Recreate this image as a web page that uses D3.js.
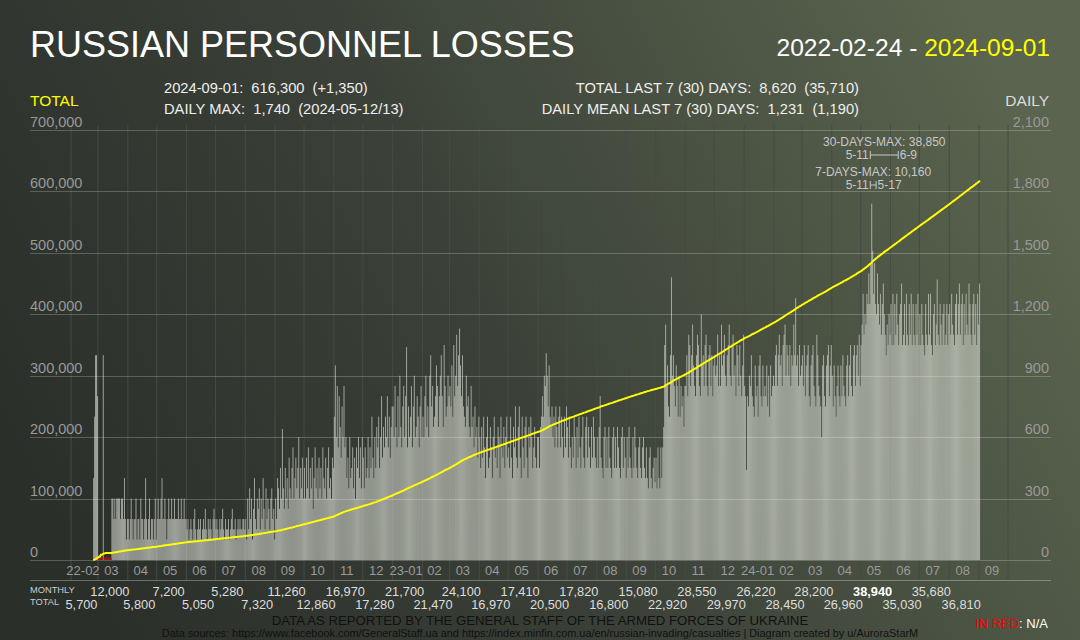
<!DOCTYPE html>
<html>
<head>
<meta charset="utf-8">
<script src="https://cdn.jsdelivr.net/npm/d3@7"></script>
<style>
  body { margin: 0; background: #2e332e; }
  svg { display: block; font-family: "Liberation Sans", Arial, sans-serif; }
  text { white-space: pre; }
</style>
</head>
<body>
<div id="chart"></div>
<script>
// daily losses, one row per month; first row starts 2022-02-24, the others on the 1st
var dailyLosses = [
   [400, 700, 1000, 1000, 800],                                                                                                       // 22-02
   [1300, 130, 3160, 170, 840, 1000, 0, 1000, 0, 0, 0, 0, 0, 0, 300, 300, 200, 300, 200, 300, 300, 300, 300, 200, 300, 300, 200, 400, 200, 100, 200], // 03
   [200, 100, 200, 300, 200, 100, 200, 200, 300, 100, 200, 200, 100, 300, 200, 200, 100, 200, 400, 200, 100, 200, 300, 100, 200, 200, 100, 200, 300, 100],
   [200, 300, 200, 200, 300, 400, 200, 200, 300, 200, 100, 200, 300, 200, 200, 300, 200, 200, 300, 200, 200, 200, 300, 200, 200, 300, 200, 200, 300, 200, 200],
   [150, 200, 100, 150, 200, 150, 100, 200, 250, 150, 100, 150, 200, 150, 200, 100, 150, 200, 150, 250, 150, 100, 200, 150, 200, 150, 100, 200, 250, 200],
   [150, 200, 150, 100, 200, 150, 200, 250, 150, 100, 200, 150, 150, 200, 100, 150, 200, 250, 150, 150, 200, 100, 150, 200, 150, 200, 150, 150, 200, 200, 150],
   [200, 100, 300, 150, 350, 200, 300, 100, 250, 400, 200, 150, 300, 250, 350, 150, 300, 200, 400, 250, 150, 350, 200, 300, 250, 150, 300, 350, 200, 250, 100],
   [300, 200, 400, 350, 250, 450, 300, 640, 350, 250, 450, 300, 400, 250, 500, 350, 300, 450, 550, 300, 400, 500, 350, 450, 600, 300, 450, 350, 500, 300],
   [450, 300, 500, 350, 550, 300, 450, 350, 500, 250, 400, 550, 350, 450, 300, 500, 350, 450, 300, 550, 400, 350, 500, 300, 450, 550, 350, 400, 300, 500, 450],
   [700, 950, 600, 850, 550, 800, 650, 500, 750, 600, 850, 550, 600, 400, 500, 350, 600, 400, 450, 550, 350, 500, 300, 550, 450, 600, 400, 550, 350, 600],
   [500, 350, 550, 400, 450, 600, 400, 550, 450, 700, 500, 400, 600, 450, 650, 550, 700, 450, 600, 800, 500, 650, 550, 700, 600, 800, 550, 700, 500, 650, 750],
   [750, 600, 850, 650, 550, 800, 600, 900, 650, 550, 750, 850, 600, 800, 1040, 550, 750, 600, 700, 850, 550, 750, 900, 600, 650, 800, 700, 550, 750, 850, 600], // 23-01
   [700, 600, 800, 900, 650, 750, 600, 900, 1000, 750, 850, 650, 700, 800, 950, 850, 650, 800, 900, 1000, 800, 650, 1050, 850, 700, 750, 900, 800],
   [850, 750, 950, 700, 1050, 800, 900, 1100, 850, 1000, 1130, 950, 800, 1000, 750, 700, 650, 900, 750, 800, 650, 600, 850, 650, 700, 550, 750, 600, 650, 500, 700],
   [600, 450, 650, 500, 700, 550, 400, 600, 700, 450, 500, 650, 550, 400, 600, 700, 500, 550, 450, 650, 600, 400, 700, 550, 500, 650, 450, 600, 700, 500],
   [550, 450, 700, 500, 400, 650, 550, 750, 500, 450, 650, 750, 500, 400, 700, 550, 450, 650, 700, 500, 400, 650, 550, 700, 600, 450, 550, 650, 500, 450, 600],
   [600, 450, 650, 700, 800, 700, 900, 850, 1010, 900, 750, 950, 700, 650, 750, 600, 700, 550, 750, 650, 550, 700, 750, 550, 700, 600, 500, 700, 550, 750],
   [650, 500, 700, 550, 450, 600, 500, 700, 600, 450, 650, 500, 700, 550, 450, 600, 700, 500, 450, 650, 700, 500, 650, 550, 450, 650, 500, 700, 600, 500, 450],
   [600, 450, 650, 800, 500, 450, 400, 600, 650, 450, 600, 450, 650, 500, 450, 400, 600, 650, 450, 600, 450, 650, 550, 450, 400, 600, 650, 450, 600, 500, 400],
   [600, 450, 650, 500, 450, 400, 600, 450, 650, 550, 450, 400, 550, 600, 450, 400, 550, 600, 450, 400, 550, 400, 350, 500, 550, 400, 350, 450, 500, 380],
   [500, 350, 550, 400, 350, 550, 400, 550, 650, 1050, 1150, 850, 950, 750, 700, 1000, 1380, 900, 1000, 850, 750, 950, 850, 700, 900, 700, 850, 750, 800, 650, 850],
   [850, 1000, 800, 1100, 1050, 850, 1000, 1150, 950, 850, 800, 1000, 1100, 1050, 850, 800, 1200, 950, 1000, 850, 1050, 1100, 850, 800, 1000, 1050, 850, 1000, 800, 950],
   [1000, 900, 950, 1100, 850, 1000, 850, 1150, 950, 1000, 1100, 900, 850, 1000, 1050, 1150, 900, 850, 1050, 1100, 900, 950, 800, 1050, 1000, 850, 1050, 900, 800, 950, 1100],
   [850, 800, 440, 800, 750, 900, 850, 1000, 800, 750, 700, 950, 800, 850, 700, 950, 1000, 800, 750, 950, 800, 850, 800, 950, 750, 900, 700, 950, 800, 850, 900], // 24-01
   [850, 1000, 1050, 850, 1000, 1100, 950, 1000, 850, 1050, 1100, 1150, 900, 1050, 1000, 900, 1050, 850, 1000, 950, 1150, 1000, 1280, 950, 1000, 850, 1050, 900, 950],
   [1000, 850, 1050, 800, 950, 1000, 1050, 800, 750, 950, 1000, 1050, 850, 800, 750, 1100, 1000, 850, 800, 750, 600, 950, 1000, 800, 750, 950, 1000, 1050, 800, 950, 1050],
   [900, 750, 950, 800, 700, 850, 950, 800, 750, 950, 800, 1000, 850, 800, 750, 950, 1000, 800, 950, 1050, 850, 800, 1000, 1050, 850, 1000, 1050, 900, 1100, 850],
   [1050, 1150, 1300, 1100, 1200, 1150, 1300, 1250, 1400, 1250, 1450, 1740, 1510, 1300, 1450, 1250, 1200, 1400, 1250, 1150, 1300, 1100, 1250, 1350, 1200, 1100, 1000, 1150, 1050, 1200, 1100],
   [1250, 1050, 1300, 1050, 1250, 1100, 1300, 1150, 1050, 1200, 1250, 1350, 1050, 1100, 1250, 1050, 1300, 1100, 1050, 1250, 1100, 1300, 1050, 1250, 1100, 1050, 1250, 1100, 1300, 1050],
   [1200, 1050, 1250, 1100, 1050, 1000, 1250, 1100, 1050, 1300, 1100, 1300, 1050, 1000, 1200, 1250, 1050, 1150, 1370, 1100, 1050, 1250, 1150, 1050, 1200, 1250, 1050, 1100, 1250, 1050, 1200],
   [1250, 1100, 1300, 1150, 1100, 1050, 1250, 1300, 1100, 1250, 1350, 1100, 1250, 1300, 1050, 1250, 1100, 1300, 1150, 1100, 1350, 1250, 1100, 1050, 1250, 1300, 1100, 1250, 1050, 1300, 1150],
   [1350]                                                                                                                             // 24-09
];

// days without a daily report (drawn in red)
var naDays = ['2022-03-01', '2022-03-02', '2022-03-03', '2022-03-04', '2022-03-05', '2022-03-07', '2022-03-08',
   '2022-03-09', '2022-03-10', '2022-03-11', '2022-03-12', '2022-03-13', '2022-03-14'];

// monthly totals, 22-02 .. 24-08
var monthlyTotals = [5700, 12000, 5800, 7200, 5050, 5280, 7320, 11260, 12860, 16970, 17280, 21700, 21470, 24100, 16970,
   17410, 20500, 17820, 16800, 15080, 22920, 28550, 29970, 26220, 28450, 28200, 26960, 38940, 35030, 35680, 36810];

var totalTicks = [0, 100000, 200000, 300000, 400000, 500000, 600000, 700000];
var dailyTicks = [0, 300, 600, 900, 1200, 1500, 1800, 2100];

var maxBrackets = [
   {label: '30-DAYS-MAX: 38,850', from: '2024-05-11', to: '2024-06-09', fromText: '5-11', toText: '6-9', y: 146},
   {label: '7-DAYS-MAX: 10,160', from: '2024-05-11', to: '2024-05-17', fromText: '5-11', toText: '5-17', y: 176}
];

var headerLeft = ['2024-09-01:  616,300  (+1,350)', 'DAILY MAX:  1,740  (2024-05-12/13)'];
var headerRight = ['TOTAL LAST 7 (30) DAYS:  8,620  (35,710)', 'DAILY MEAN LAST 7 (30) DAYS:  1,231  (1,190)'];

var width = 1080, height = 640;
var parse = d3.utcParse('%Y-%m-%d');
var firstDay = parse('2022-02-24');
var firstMonth = parse('2022-02-01');

var svg = d3.select('#chart').append('svg').attr('width', width).attr('height', height);

//background gradient
var grad = svg.append('defs').append('linearGradient')
   .attr('id', 'bg').attr('x1', 0).attr('y1', 0.65).attr('x2', 1).attr('y2', 0.35);
grad.append('stop').attr('offset', '0').attr('stop-color', '#2a2f2a');
grad.append('stop').attr('offset', '0.45').attr('stop-color', '#3b4138');
grad.append('stop').attr('offset', '1').attr('stop-color', '#5a644e');
svg.append('rect').attr('width', width).attr('height', height).attr('fill', 'url(#bg)');

//scales
var x = d3.scaleUtc().domain([firstMonth, parse('2024-10-01')]).range([71, 1008]);
var yTotal = d3.scaleLinear().domain([0, 700000]).range([560, 130]);
var yDaily = d3.scaleLinear().domain([0, 2100]).range([560, 130]);

//flatten daily rows to dated points
var days = [], running = 0;
dailyLosses.forEach(function (row, k) {
   var start = k === 0 ? firstDay : d3.utcMonth.offset(firstMonth, k);
   row.forEach(function (v, i) {
      var date = d3.utcDay.offset(start, i);
      running += v;
      days.push({date: date, value: v, total: running});
   });
});
var naSet = {};
naDays.forEach(function (d) { naSet[d] = true; });
var fmtDay = d3.utcFormat('%Y-%m-%d');

//vertical month lines
var months = d3.utcMonth.range(firstMonth, d3.utcMonth.offset(parse('2024-10-01'), 1));
svg.append('g').selectAll('line').data(months).enter().append('line')
   .attr('x1', function (d) { return x(d); })
   .attr('x2', function (d) { return x(d); })
   .attr('y1', 125).attr('y2', 580)
   .attr('stroke', '#474a45').attr('stroke-width', 1);

//daily bars
svg.append('g').selectAll('rect')
   .data(days.filter(function (d) { return !naSet[fmtDay(d.date)]; }))
   .enter().append('rect')
   .attr('x', function (d) { return x(d.date); })
   .attr('width', function (d) { return x(d3.utcDay.offset(d.date, 1)) - x(d.date); })
   .attr('y', function (d) { return yDaily(d.value); })
   .attr('height', function (d) { return yDaily(0) - yDaily(d.value); })
   .attr('fill', '#dcdfd6').attr('fill-opacity', 0.66);

//horizontal grid
svg.append('g').selectAll('line').data(totalTicks).enter().append('line')
   .attr('x1', 30).attr('x2', 1051)
   .attr('y1', function (d) { return Math.round(yTotal(d)) + 0.5; })
   .attr('y2', function (d) { return Math.round(yTotal(d)) + 0.5; })
   .attr('stroke', '#fff').attr('stroke-opacity', 0.22);
svg.append('line').attr('x1', 30).attr('x2', 1051).attr('y1', 580.5).attr('y2', 580.5)
   .attr('stroke', '#fff').attr('stroke-opacity', 0.3);

//N/A days in red
svg.append('g').selectAll('rect').data(naDays).enter().append('rect')
   .attr('x', function (d) { return x(parse(d)); })
   .attr('width', function (d) { return x(d3.utcDay.offset(parse(d), 1)) - x(parse(d)) + 0.2; })
   .attr('y', 557.5).attr('height', 2.5)
   .attr('fill', '#a3191b');

//cumulative line
var linePts = [{date: firstDay, total: 0}].concat(days.map(function (d) {
   return {date: d3.utcDay.offset(d.date, 1), total: d.total};
}));
svg.append('path').datum(linePts)
   .attr('d', d3.line()
      .x(function (d) { return x(d.date); })
      .y(function (d) { return yTotal(d.total); }))
   .attr('fill', 'none').attr('stroke', '#ffff00').attr('stroke-width', 2);

//axis labels
svg.append('g').selectAll('text').data(totalTicks).enter().append('text')
   .attr('x', 30).attr('y', function (d) { return yTotal(d) - 3; })
   .attr('font-size', '14.5px').attr('fill', '#999')
   .text(d3.format(','));
svg.append('g').selectAll('text').data(dailyTicks).enter().append('text')
   .attr('x', 1049).attr('y', function (d) { return yDaily(d) - 3; })
   .attr('text-anchor', 'end').attr('font-size', '14.5px').attr('fill', '#999')
   .text(d3.format(','));

//month labels
var monthFmt = function (d) {
   return (d.getUTCMonth() === 0 || +d === +firstMonth) ? d3.utcFormat('%y-%m')(d) : d3.utcFormat('%m')(d);
};
var labelMonths = months.slice(0, months.length - 1);
svg.append('g').selectAll('text').data(labelMonths).enter().append('text')
   .attr('x', function (d) { return (x(d) + x(d3.utcMonth.offset(d, 1))) / 2 - 1.5; })
   .attr('y', 575).attr('text-anchor', 'middle')
   .attr('font-size', '13px').attr('fill', '#9a9a9a')
   .text(monthFmt);

//monthly totals rows
svg.append('text').attr('x', 30).attr('y', 593).attr('font-size', '9.3px').attr('fill', '#ccc').text('MONTHLY');
svg.append('text').attr('x', 30).attr('y', 605).attr('font-size', '9.3px').attr('fill', '#ccc').text('TOTAL');
var maxMonthly = d3.max(monthlyTotals);
svg.append('g').selectAll('text').data(monthlyTotals).enter().append('text')
   .attr('x', function (d, i) {
      var m = d3.utcMonth.offset(firstMonth, i);
      return (x(m) + x(d3.utcMonth.offset(m, 1))) / 2 - 3;
   })
   .attr('y', function (d, i) { return i % 2 === 0 ? 609 : 596; })
   .attr('text-anchor', 'middle').attr('font-size', '12.8px')
   .attr('font-weight', function (d) { return d === maxMonthly ? 'bold' : 'normal'; })
   .attr('fill', function (d) { return d === maxMonthly ? '#fff' : '#ddd'; })
   .text(d3.format(','));

//max brackets
maxBrackets.forEach(function (b) {
   var x1 = x(parse(b.from)), x2 = x(parse(b.to)), by = b.y + 9;
   var g = svg.append('g').attr('fill', '#c8c8c8').attr('font-size', '12px');
   g.append('text').attr('x', (x1 + x2) / 2).attr('y', b.y).attr('text-anchor', 'middle').text(b.label);
   g.append('path')
      .attr('d', 'M' + x1 + ',' + (by - 4) + 'V' + (by + 4) + 'M' + x1 + ',' + by + 'H' + x2 + 'M' + x2 + ',' + (by - 4) + 'V' + (by + 4))
      .attr('stroke', '#c8c8c8').attr('fill', 'none');
   g.append('text').attr('x', x1 - 1.5).attr('y', by + 3.5).attr('text-anchor', 'end').text(b.fromText);
   g.append('text').attr('x', x2 + 1.5).attr('y', by + 3.5).text(b.toText);
});

//titles
svg.append('text').attr('x', 30).attr('y', 57).attr('font-size', '36px').attr('fill', '#fff')
   .text('RUSSIAN PERSONNEL LOSSES');
var dt = svg.append('text').attr('x', 1050).attr('y', 56).attr('text-anchor', 'end').attr('font-size', '24.6px');
dt.append('tspan').attr('fill', '#fff').text('2022-02-24 - ');
dt.append('tspan').attr('fill', '#ffff00').text('2024-09-01');

svg.append('text').attr('x', 30).attr('y', 106).attr('font-size', '15.5px').attr('fill', '#ffff00').text('TOTAL');
svg.append('text').attr('x', 1049).attr('y', 106).attr('text-anchor', 'end').attr('font-size', '15.5px').attr('fill', '#ddd').text('DAILY');

svg.append('g').selectAll('text').data(headerLeft).enter().append('text')
   .attr('x', 164).attr('y', function (d, i) { return 93 + i * 21; })
   .attr('font-size', '14.7px').attr('fill', '#eee').text(function (d) { return d; });
svg.append('g').selectAll('text').data(headerRight).enter().append('text')
   .attr('x', 859).attr('y', function (d, i) { return 93 + i * 21; })
   .attr('text-anchor', 'end').attr('font-size', '14.7px').attr('fill', '#eee').text(function (d) { return d; });

//footer
svg.append('text').attr('x', 540).attr('y', 625).attr('text-anchor', 'middle').attr('font-size', '13.2px').attr('fill', '#111')
   .text('DATA AS REPORTED BY THE GENERAL STAFF OF THE ARMED FORCES OF UKRAINE');
svg.append('text').attr('x', 540).attr('y', 636.5).attr('text-anchor', 'middle').attr('font-size', '10.9px').attr('fill', '#111')
   .text('Data sources: https://www.facebook.com/GeneralStaff.ua and https://index.minfin.com.ua/en/russian-invading/casualties | Diagram created by u/AuroraStarM');
var na = svg.append('text').attr('x', 1048).attr('y', 628).attr('text-anchor', 'end').attr('font-size', '13px');
na.append('tspan').attr('fill', '#ff0000').text('IN RED');
na.append('tspan').attr('fill', '#fff').text(': N/A');
</script>
</body>
</html>
